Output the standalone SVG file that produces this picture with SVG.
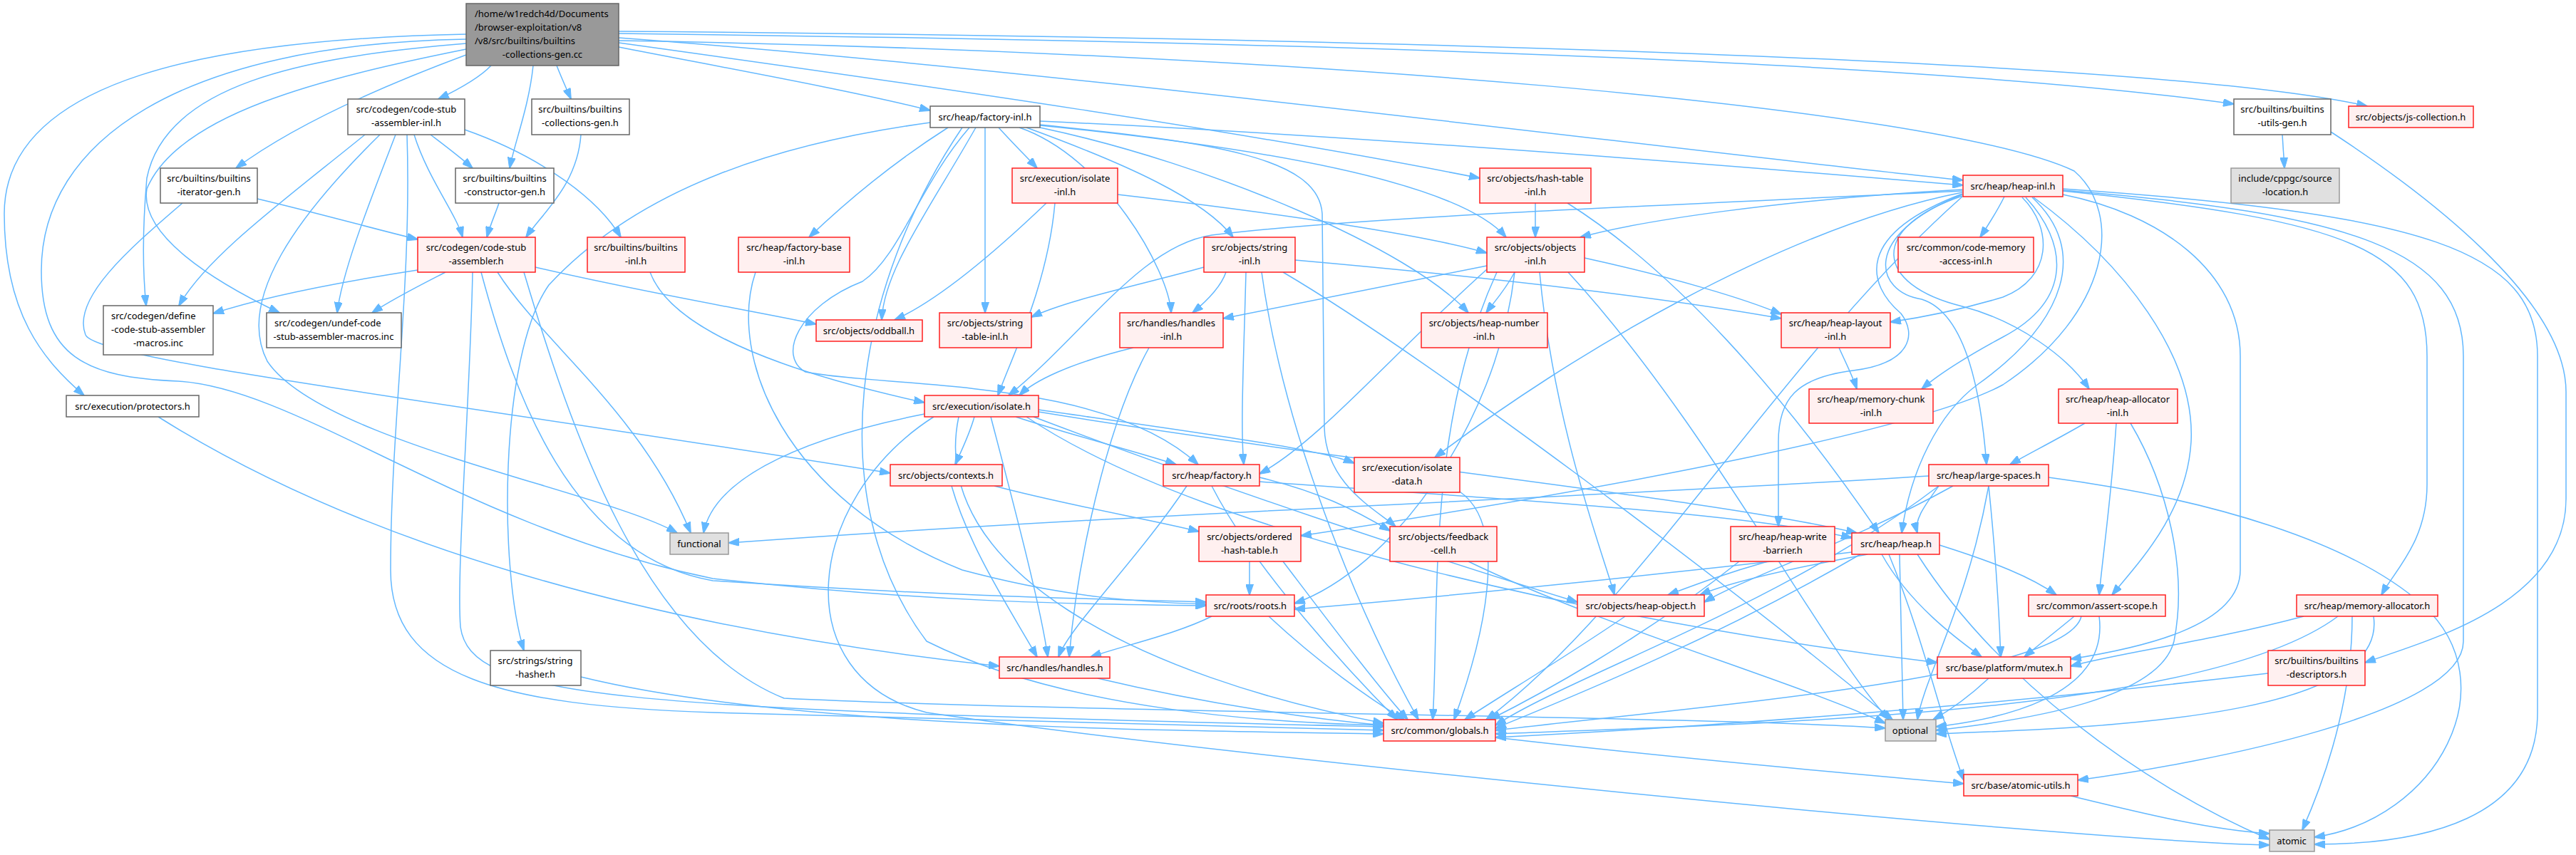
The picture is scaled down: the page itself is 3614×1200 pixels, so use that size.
<svg xmlns="http://www.w3.org/2000/svg" width="3614" height="1200" viewBox="0 0 3614 1200">
<defs>
<style>
.w rect{fill:#ffffff;stroke:#666666;stroke-width:1.5}
.r rect{fill:#fff0f0;stroke:#ff2020;stroke-width:1.5}
.g rect{fill:#e0e0e0;stroke:#999999;stroke-width:1.5}
.k rect{fill:#999999;stroke:#666666;stroke-width:1.5}
text{font-family:"Noto Sans","Liberation Sans",Arial,sans-serif;font-size:13px;fill:#000000;text-anchor:middle}
text.l{text-anchor:start}
#edges path{fill:none;stroke:#63b8ff;stroke-width:1.5;marker-end:url(#a)}
</style>
<marker id="a" markerUnits="userSpaceOnUse" markerWidth="16" markerHeight="11" refX="15" refY="5.5" orient="auto" viewBox="0 0 16 11"><path d="M0,0 L16,5.5 L0,11 z" fill="#63b8ff" stroke="#63b8ff"/></marker>
</defs>
<rect width="3614" height="1200" fill="#ffffff"/>
<g id="edges">
<path d="M689,92 C672,110 642,126 615,139"/>
<path d="M748,92 C742,150 722,200 715,236"/>
<path d="M781,92 C788,110 795,125 801,139"/>
<path d="M654,77 C560,112 420,170 331,236"/>
<path d="M654,48 C300,55 6,110 6,300 C6,440 60,505 118,555"/>
<path d="M654,61 C420,80 232,120 206,250 C199,330 201,390 205,429"/>
<path d="M654,69 C450,110 250,160 206,265 C195,330 300,395 392,439"/>
<path d="M654,55 C250,62 58,200 58,380 C58,500 120,530 250,535 C420,545 650,740 1000,812 C1300,845 1500,848 1692,850"/>
<path d="M868,66 C1000,92 1200,128 1305,155"/>
<path d="M868,53 C1500,100 2300,205 2754,253"/>
<path d="M868,60 C1300,120 1750,185 2076,250"/>
<path d="M868,47 C1800,58 2700,85 3134,146"/>
<path d="M868,44 C1900,52 3050,85 3321,149"/>
<path d="M868,57 C1800,72 2720,150 2910,240 C2980,300 2960,440 2810,540 C2700,600 2300,680 1825,752"/>
<path d="M604,189 C625,205 645,220 663,236"/>
<path d="M581,189 C600,250 640,300 649,333"/>
<path d="M652,182 C760,220 840,280 871,333"/>
<path d="M512,189 C400,280 290,360 251,429"/>
<path d="M555,189 C520,280 480,380 473,439"/>
<path d="M571,189 C578,400 548,600 548,800 C548,950 700,990 1000,1000 C1500,1012 1800,1020 1941,1025"/>
<path d="M533,189 C420,300 330,420 375,507 C450,620 850,690 950,748"/>
<path d="M815,189 C810,260 760,300 738,333"/>
<path d="M700,285 C695,300 688,315 683,333"/>
<path d="M361,279 C450,300 520,320 586,336"/>
<path d="M256,285 C180,350 100,420 120,470 C135,505 600,560 1249,664"/>
<path d="M586,379 C450,400 360,420 299,440"/>
<path d="M625,382 C590,400 550,420 522,439"/>
<path d="M663,382 C660,550 640,800 646,880 C660,980 850,995 1941,1020"/>
<path d="M675,382 C720,550 800,780 1000,815 C1300,835 1500,840 1692,845"/>
<path d="M698,382 C760,480 900,580 969,748"/>
<path d="M735,382 C800,600 900,900 1100,980 C1500,1000 2400,1005 2645,1022"/>
<path d="M751,375 C900,410 1050,435 1145,455"/>
<path d="M912,382 C930,430 1000,500 1297,565"/>
<path d="M1305,172 C1100,200 900,260 770,400 C700,500 700,800 735,913"/>
<path d="M1401,179 C1420,200 1440,220 1455,236"/>
<path d="M1330,179 C1250,230 1180,290 1135,333"/>
<path d="M1440,179 C1580,230 1690,280 1730,333"/>
<path d="M1459,170 C1900,190 2400,230 2754,260"/>
<path d="M1459,176 C1800,210 2050,260 2113,333"/>
<path d="M1369,179 C1300,300 1240,380 1237,449"/>
<path d="M1382,179 L1382,439"/>
<path d="M1430,179 C1550,220 1640,380 1643,439"/>
<path d="M1459,179 C1700,230 1980,350 2060,439"/>
<path d="M1459,175 C1700,200 1850,220 1855,300 L1858,600 C1860,680 1930,715 1958,739"/>
<path d="M1360,179 C1290,260 1262,360 1210,395 C1120,430 1090,500 1130,522 C1250,545 1550,530 1681,652"/>
<path d="M1350,179 C1200,400 1150,700 1300,900 C1500,1000 1800,1015 1941,1018"/>
<path d="M1480,285 C1470,400 1420,500 1400,555"/>
<path d="M1568,273 C1800,300 2000,330 2086,355"/>
<path d="M1468,285 C1400,350 1320,420 1255,449"/>
<path d="M2154,285 L2154,333"/>
<path d="M2199,285 C2350,380 2500,550 2636,748"/>
<path d="M2812,276 C2800,300 2790,315 2778,333"/>
<path d="M2753,266 C2500,280 2300,310 2217,333"/>
<path d="M2837,277 C2880,320 2880,390 2810,417 C2750,435 2700,445 2652,452"/>
<path d="M2842,277 C2900,340 2910,420 2810,473 C2760,500 2720,525 2696,546"/>
<path d="M2753,270 C2500,320 2200,500 2013,642"/>
<path d="M2753,268 C2300,290 1900,305 1700,330 C1600,345 1520,470 1415,555"/>
<path d="M2753,275 C2620,320 2630,400 2753,430 C2830,450 2900,500 2931,546"/>
<path d="M2753,273 C2610,330 2630,410 2696,420 C2760,440 2780,560 2787,652"/>
<path d="M2753,272 C2600,330 2620,400 2667,440 C2690,470 2680,510 2600,520 C2520,530 2495,560 2495,620 L2495,739"/>
<path d="M2851,277 C2930,350 2900,450 2774,540 C2720,580 2680,660 2668,748"/>
<path d="M2853,277 C2980,370 3080,500 3074,620 C3068,720 3000,790 2963,835"/>
<path d="M2894,273 C3030,300 3143,380 3143,500 L3143,800 C3143,880 3000,910 2905,925"/>
<path d="M2894,268 C3300,310 3405,350 3405,500 L3405,680 C3405,760 3360,800 3341,835"/>
<path d="M2894,265 C3400,300 3560,350 3560,500 L3560,1000 C3560,1150 3400,1185 3247,1185"/>
<path d="M2894,267 C3300,300 3456,350 3456,500 L3456,900 C3456,1000 3100,1070 2915,1095"/>
<path d="M2753,276 C2500,500 2300,850 2085,1010"/>
<path d="M3202,189 L3205,236"/>
<path d="M3270,185 C3400,270 3600,420 3600,550 L3600,700 C3600,850 3400,900 3318,930"/>
<path d="M1689,375 C1600,400 1500,420 1447,445"/>
<path d="M1720,382 C1712,405 1690,425 1673,439"/>
<path d="M1748,382 C1745,500 1740,600 1745,652"/>
<path d="M1817,365 C2100,390 2350,420 2499,447"/>
<path d="M1770,382 C1800,600 1900,850 1990,1010"/>
<path d="M1800,382 C2000,500 2400,800 2655,1010"/>
<path d="M2086,373 C1950,400 1800,430 1716,447"/>
<path d="M2125,382 C2110,410 2095,425 2085,439"/>
<path d="M2223,362 C2350,390 2450,420 2499,441"/>
<path d="M2086,378 C1950,500 1850,620 1767,665"/>
<path d="M2160,382 C2180,600 2250,780 2265,835"/>
<path d="M2125,382 C2100,600 1950,800 1816,847"/>
<path d="M2100,382 C2000,600 2020,850 2010,1010"/>
<path d="M2200,382 C2400,600 2550,900 2650,1010"/>
<path d="M1590,488 C1500,510 1450,535 1430,555"/>
<path d="M1612,488 C1550,600 1510,800 1500,922"/>
<path d="M1367,585 C1360,610 1350,630 1340,652"/>
<path d="M1425,585 C1500,610 1600,635 1650,652"/>
<path d="M1297,581 C1100,620 1000,680 987,748"/>
<path d="M1390,585 C1420,700 1460,850 1470,922"/>
<path d="M1457,578 C1900,650 2400,700 2605,748"/>
<path d="M1457,575 C1700,610 1850,630 1900,650"/>
<path d="M1450,585 C1700,680 2000,780 2213,845"/>
<path d="M1345,585 C1300,800 1600,950 1941,1015"/>
<path d="M1310,585 C1130,700 1100,950 1300,1000 C1700,1060 2900,1180 3184,1186"/>
<path d="M1440,585 C1700,760 2300,880 2718,930"/>
<path d="M1767,670 C1850,690 1900,715 1950,745"/>
<path d="M1335,682 C1360,770 1420,860 1455,922"/>
<path d="M1395,682 C1500,710 1620,730 1682,746"/>
<path d="M1665,682 C1600,780 1500,880 1485,922"/>
<path d="M1767,676 C2100,700 2450,720 2598,755"/>
<path d="M1700,682 C1760,800 1900,950 1960,1010"/>
<path d="M2706,668 C2200,700 1600,720 1022,762"/>
<path d="M2720,682 C2700,710 2685,730 2690,748"/>
<path d="M2740,682 C2600,760 2450,810 2391,845"/>
<path d="M2790,682 C2800,780 2805,870 2807,922"/>
<path d="M2874,670 C3100,700 3300,760 3400,850 C3520,960 3420,1150 3247,1175"/>
<path d="M2720,682 C2500,850 2200,950 2098,1018"/>
<path d="M2790,682 C2760,850 2700,950 2690,1010"/>
<path d="M2925,594 C2880,620 2840,640 2820,652"/>
<path d="M2969,594 C2962,700 2950,780 2945,835"/>
<path d="M2989,594 C3040,680 3070,800 3050,900 C3030,980 2850,1010 2716,1025"/>
<path d="M2580,488 C2590,510 2600,530 2605,546"/>
<path d="M2480,788 C2420,805 2380,820 2340,835"/>
<path d="M2440,788 C2300,900 2150,980 2090,1010"/>
<path d="M2620,778 C2500,800 2420,820 2385,835"/>
<path d="M2598,775 C2300,810 2000,840 1816,855"/>
<path d="M2721,765 C2800,790 2850,810 2885,835"/>
<path d="M2640,778 C2680,850 2750,900 2780,922"/>
<path d="M2665,778 L2670,1010"/>
<path d="M2610,778 C2400,900 2200,980 2098,1022"/>
<path d="M2650,778 C2700,900 2720,1000 2755,1095"/>
<path d="M2690,778 C2800,950 3000,1100 3184,1178"/>
<path d="M1700,865 C1650,890 1580,905 1530,922"/>
<path d="M1780,865 C1850,930 1920,980 1970,1010"/>
<path d="M1753,788 L1753,835"/>
<path d="M1800,788 C1870,880 1930,960 1975,1010"/>
<path d="M2060,788 C2250,880 2500,950 2645,1015"/>
<path d="M2048,690 C2120,740 2080,900 2040,1010"/>
<path d="M2280,865 C2200,920 2100,980 2055,1010"/>
<path d="M2910,865 C2880,890 2860,905 2840,922"/>
<path d="M2920,865 C2900,950 2400,990 2098,1025"/>
<path d="M2945,865 C2960,980 2800,1010 2716,1020"/>
<path d="M3232,865 C3100,900 2980,915 2905,935"/>
<path d="M3280,865 C3100,1000 2500,1015 2098,1030"/>
<path d="M3330,865 C3350,1000 3000,1020 2716,1030"/>
<path d="M3300,865 C3300,1000 3250,1120 3230,1165"/>
<path d="M2790,952 C2760,980 2730,1000 2712,1010"/>
<path d="M3182,945 C2800,990 2400,1020 2098,1035"/>
<path d="M2098,1035 C2400,1070 2650,1090 2755,1100"/>
<path d="M2905,1117 C3000,1140 3100,1165 3184,1170"/>
<path d="M815,950 C1100,1020 1600,1025 1941,1030"/>
<path d="M1540,952 C1700,990 1850,1010 1941,1018"/>
<path d="M222,585 C500,760 900,880 1402,935"/>
<path d="M1060,382 C1020,500 1100,700 1350,800 C1500,840 1600,845 1692,848"/>
</g>
<g id="root" class="k"><rect x="654" y="5" width="214" height="87"/><text class="l" x="666" y="23.6">/home/w1redch4d/Documents</text><text class="l" x="666" y="42.6">/browser-exploitation/v8</text><text class="l" x="666" y="61.6">/v8/src/builtins/builtins</text><text x="761" y="80.6">-collections-gen.cc</text></g>
<g id="csa_inl" class="w"><rect x="488" y="139" width="164" height="50"/><text x="570" y="157.6">src/codegen/code-stub</text><text x="570" y="176.6">-assembler-inl.h</text></g>
<g id="bcg_h" class="w"><rect x="746" y="139" width="137" height="50"/><text x="814" y="157.6">src/builtins/builtins</text><text x="814" y="176.6">-collections-gen.h</text></g>
<g id="factory_inl" class="w"><rect x="1305" y="149" width="154" height="30"/><text x="1382" y="168.6">src/heap/factory-inl.h</text></g>
<g id="butils" class="w"><rect x="3134" y="139" width="136" height="50"/><text x="3202" y="157.6">src/builtins/builtins</text><text x="3202" y="176.6">-utils-gen.h</text></g>
<g id="jscoll" class="r"><rect x="3295" y="149" width="175" height="30"/><text x="3382" y="168.6">src/objects/js-collection.h</text></g>
<g id="iter_gen" class="w"><rect x="225" y="236" width="136" height="49"/><text x="293" y="254.6">src/builtins/builtins</text><text x="293" y="273.6">-iterator-gen.h</text></g>
<g id="ctor_gen" class="w"><rect x="639" y="236" width="138" height="49"/><text x="708" y="254.6">src/builtins/builtins</text><text x="708" y="273.6">-constructor-gen.h</text></g>
<g id="isolate_inl" class="r"><rect x="1420" y="236" width="148" height="49"/><text x="1494" y="254.6">src/execution/isolate</text><text x="1494" y="273.6">-inl.h</text></g>
<g id="hash_table_inl" class="r"><rect x="2076" y="236" width="156" height="49"/><text x="2154" y="254.6">src/objects/hash-table</text><text x="2154" y="273.6">-inl.h</text></g>
<g id="heap_inl" class="r"><rect x="2754" y="246" width="140" height="30"/><text x="2824" y="265.6">src/heap/heap-inl.h</text></g>
<g id="source_location" class="g"><rect x="3130" y="236" width="152" height="49"/><text x="3206" y="254.6">include/cppgc/source</text><text x="3206" y="273.6">-location.h</text></g>
<g id="csa_h" class="r"><rect x="586" y="333" width="165" height="49"/><text x="668" y="351.6">src/codegen/code-stub</text><text x="668" y="370.6">-assembler.h</text></g>
<g id="builtins_inl" class="r"><rect x="824" y="333" width="137" height="49"/><text x="892" y="351.6">src/builtins/builtins</text><text x="892" y="370.6">-inl.h</text></g>
<g id="factory_base_inl" class="r"><rect x="1036" y="333" width="156" height="49"/><text x="1114" y="351.6">src/heap/factory-base</text><text x="1114" y="370.6">-inl.h</text></g>
<g id="string_inl" class="r"><rect x="1689" y="333" width="128" height="49"/><text x="1753" y="351.6">src/objects/string</text><text x="1753" y="370.6">-inl.h</text></g>
<g id="objects_inl" class="r"><rect x="2086" y="333" width="137" height="49"/><text x="2154" y="351.6">src/objects/objects</text><text x="2154" y="370.6">-inl.h</text></g>
<g id="code_memory" class="r"><rect x="2663" y="333" width="190" height="49"/><text x="2758" y="351.6">src/common/code-memory</text><text x="2758" y="370.6">-access-inl.h</text></g>
<g id="define_inc" class="w"><rect x="145" y="429" width="154" height="69"/><text class="l" x="156" y="447.6">src/codegen/define</text><text class="l" x="156" y="466.6">-code-stub-assembler</text><text x="222" y="485.6">-macros.inc</text></g>
<g id="undef_inc" class="w"><rect x="374" y="439" width="189" height="49"/><text class="l" x="385" y="457.6">src/codegen/undef-code</text><text x="468" y="476.6">-stub-assembler-macros.inc</text></g>
<g id="oddball" class="r"><rect x="1145" y="449" width="149" height="30"/><text x="1219" y="468.6">src/objects/oddball.h</text></g>
<g id="string_table" class="r"><rect x="1318" y="439" width="129" height="49"/><text x="1382" y="457.6">src/objects/string</text><text x="1382" y="476.6">-table-inl.h</text></g>
<g id="handles_inl" class="r"><rect x="1571" y="439" width="145" height="49"/><text x="1643" y="457.6">src/handles/handles</text><text x="1643" y="476.6">-inl.h</text></g>
<g id="heap_number" class="r"><rect x="1994" y="439" width="177" height="49"/><text x="2082" y="457.6">src/objects/heap-number</text><text x="2082" y="476.6">-inl.h</text></g>
<g id="heap_layout" class="r"><rect x="2499" y="439" width="153" height="49"/><text x="2575" y="457.6">src/heap/heap-layout</text><text x="2575" y="476.6">-inl.h</text></g>
<g id="memory_chunk" class="r"><rect x="2538" y="546" width="174" height="48"/><text x="2625" y="564.6">src/heap/memory-chunk</text><text x="2625" y="583.6">-inl.h</text></g>
<g id="heap_allocator" class="r"><rect x="2888" y="546" width="167" height="48"/><text x="2971" y="564.6">src/heap/heap-allocator</text><text x="2971" y="583.6">-inl.h</text></g>
<g id="protectors" class="w"><rect x="93" y="555" width="186" height="30"/><text x="186" y="574.6">src/execution/protectors.h</text></g>
<g id="isolate_h" class="r"><rect x="1297" y="555" width="160" height="30"/><text x="1377" y="574.6">src/execution/isolate.h</text></g>
<g id="isolate_data" class="r"><rect x="1900" y="642" width="148" height="49"/><text x="1974" y="660.6">src/execution/isolate</text><text x="1974" y="679.6">-data.h</text></g>
<g id="contexts" class="r"><rect x="1249" y="652" width="157" height="30"/><text x="1327" y="671.6">src/objects/contexts.h</text></g>
<g id="factory_h" class="r"><rect x="1632" y="652" width="135" height="30"/><text x="1700" y="671.6">src/heap/factory.h</text></g>
<g id="large_spaces" class="r"><rect x="2706" y="652" width="168" height="30"/><text x="2790" y="671.6">src/heap/large-spaces.h</text></g>
<g id="functional" class="g"><rect x="940" y="748" width="82" height="30"/><text x="981" y="767.6">functional</text></g>
<g id="ordered_hash" class="r"><rect x="1682" y="739" width="143" height="49"/><text x="1753" y="757.6">src/objects/ordered</text><text x="1753" y="776.6">-hash-table.h</text></g>
<g id="feedback_cell" class="r"><rect x="1950" y="739" width="150" height="49"/><text x="2025" y="757.6">src/objects/feedback</text><text x="2025" y="776.6">-cell.h</text></g>
<g id="heap_write_barrier" class="r"><rect x="2428" y="739" width="146" height="49"/><text x="2501" y="757.6">src/heap/heap-write</text><text x="2501" y="776.6">-barrier.h</text></g>
<g id="heap_h" class="r"><rect x="2598" y="748" width="123" height="30"/><text x="2660" y="767.6">src/heap/heap.h</text></g>
<g id="roots" class="r"><rect x="1692" y="835" width="124" height="30"/><text x="1754" y="854.6">src/roots/roots.h</text></g>
<g id="heap_object" class="r"><rect x="2213" y="835" width="178" height="30"/><text x="2302" y="854.6">src/objects/heap-object.h</text></g>
<g id="assert_scope" class="r"><rect x="2846" y="835" width="192" height="30"/><text x="2942" y="854.6">src/common/assert-scope.h</text></g>
<g id="memory_allocator" class="r"><rect x="3222" y="835" width="198" height="30"/><text x="3321" y="854.6">src/heap/memory-allocator.h</text></g>
<g id="string_hasher" class="w"><rect x="688" y="913" width="127" height="49"/><text x="751" y="931.6">src/strings/string</text><text x="751" y="950.6">-hasher.h</text></g>
<g id="handles_h" class="r"><rect x="1402" y="922" width="155" height="30"/><text x="1480" y="941.6">src/handles/handles.h</text></g>
<g id="mutex" class="r"><rect x="2718" y="922" width="187" height="30"/><text x="2812" y="941.6">src/base/platform/mutex.h</text></g>
<g id="builtins_descriptors" class="r"><rect x="3182" y="913" width="136" height="49"/><text x="3250" y="931.6">src/builtins/builtins</text><text x="3250" y="950.6">-descriptors.h</text></g>
<g id="globals" class="r"><rect x="1941" y="1010" width="157" height="30"/><text x="2020" y="1029.6">src/common/globals.h</text></g>
<g id="optional" class="g"><rect x="2645" y="1010" width="71" height="30"/><text x="2680" y="1029.6">optional</text></g>
<g id="atomic_utils" class="r"><rect x="2755" y="1087" width="160" height="30"/><text x="2835" y="1106.6">src/base/atomic-utils.h</text></g>
<g id="atomic" class="g"><rect x="3184" y="1165" width="63" height="30"/><text x="3215" y="1184.6">atomic</text></g>
</svg>
